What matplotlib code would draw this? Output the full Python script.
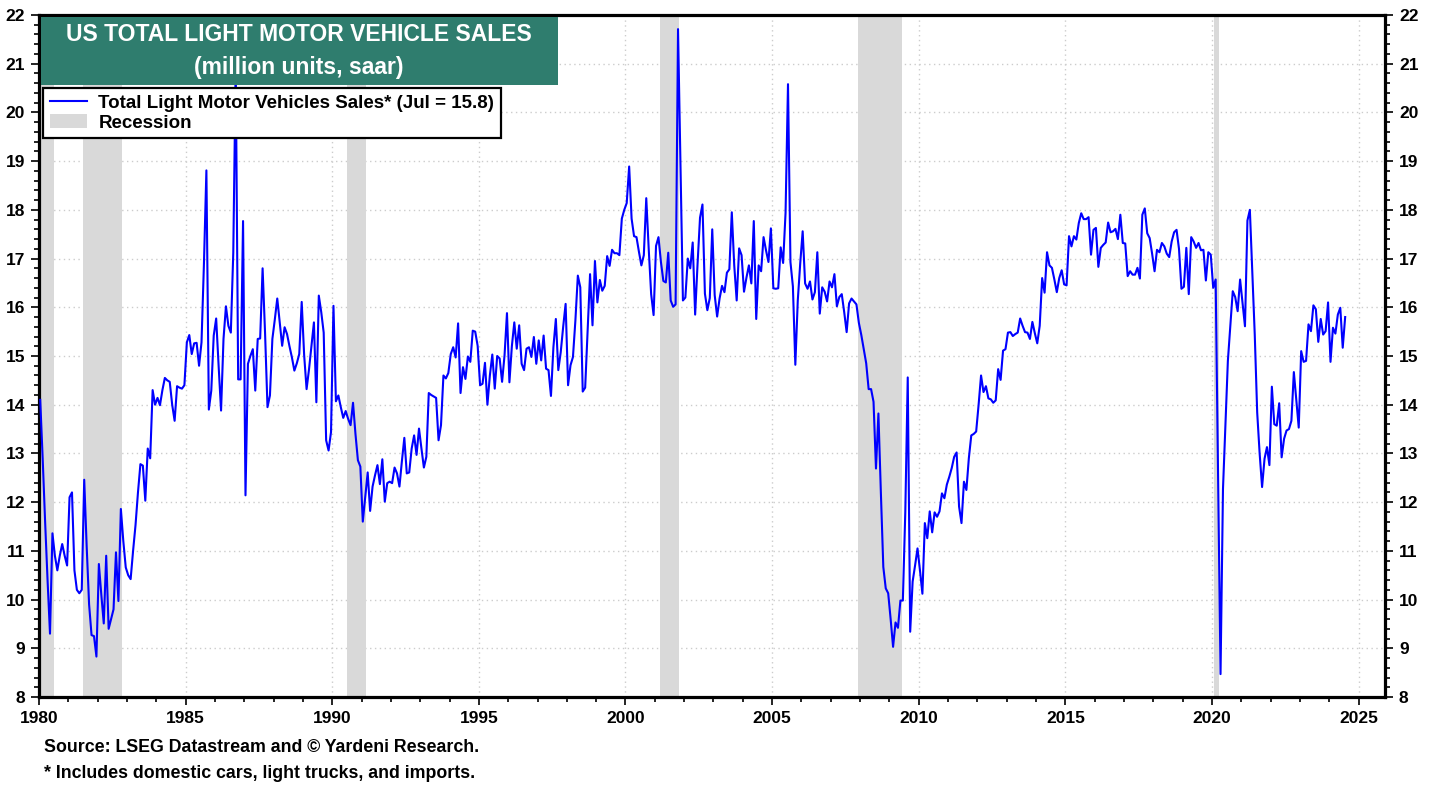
import numpy as np
import matplotlib.pyplot as plt
from matplotlib.lines import Line2D
from matplotlib.patches import Patch, Rectangle
from matplotlib.ticker import MultipleLocator

plt.rcParams['font.family'] = ['Liberation Sans', 'DejaVu Sans']
plt.rcParams['font.weight'] = 'bold'

# monthly sales, million units saar, Jan 1980 .. Jul 2024
sales_1980s = [
    14.1, 12.9, 11.6, 10.4, 9.3, 11.36, 10.9, 10.6, 10.9, 11.14, 10.9, 10.7,
    12.1, 12.2, 10.6, 10.2, 10.13, 10.2, 12.46, 11.1, 9.9, 9.27, 9.25, 8.83,
    10.73, 10.1, 9.51, 10.9, 9.4, 9.6, 9.8, 10.97, 9.97, 11.86, 11.2, 10.66,
    10.5, 10.42, 11.0, 11.53, 12.2, 12.78, 12.75, 12.03, 13.1, 12.9, 14.3, 14.0,
    14.14, 13.99, 14.3, 14.55, 14.5, 14.47, 14.0, 13.67, 14.38, 14.35, 14.33, 14.4,
    15.28, 15.43, 15.04, 15.26, 15.27, 14.8, 15.28, 16.9, 18.81, 13.9, 14.29, 15.42,
    15.77, 14.8, 13.88, 15.35, 16.02, 15.62, 15.48, 17.12, 21.0, 14.52, 14.52, 17.77,
    12.14, 14.84, 15.0, 15.14, 14.29, 15.35, 15.36, 16.8, 15.48, 13.95, 14.19, 15.35,
    15.75, 16.18, 15.69, 15.21, 15.59, 15.45, 15.2, 14.97, 14.7, 14.85, 15.04, 16.11,
    15.02, 14.32, 14.73, 15.2, 15.69, 14.05, 16.24, 15.9, 15.48, 13.27, 13.06, 13.44,
]
sales_1990s = [
    16.03, 14.07, 14.19, 13.95, 13.73, 13.87, 13.71, 13.58, 14.04, 13.4, 12.86, 12.73,
    11.6, 12.1, 12.61, 11.82, 12.32, 12.55, 12.76, 12.37, 12.88, 12.01, 12.39, 12.42,
    12.39, 12.71, 12.59, 12.32, 12.84, 13.32, 12.59, 12.61, 13.1, 13.37, 12.97, 13.51,
    13.1, 12.71, 12.93, 14.24, 14.2, 14.17, 14.14, 13.27, 13.58, 14.6, 14.54, 14.65,
    15.04, 15.18, 14.97, 15.67, 14.24, 14.77, 14.53, 14.99, 14.88, 15.52, 15.5, 15.21,
    14.4, 14.43, 14.86, 14.0, 14.6, 15.03, 14.33, 15.0, 14.95, 14.47, 15.01, 15.88,
    14.46, 15.2, 15.69, 15.15, 15.63, 14.84, 14.71, 15.15, 15.18, 14.98, 15.39, 14.84,
    15.32, 14.91, 15.42, 14.74, 14.71, 14.18, 15.18, 15.76, 14.71, 15.08, 15.6, 16.07,
    14.4, 14.81, 14.98, 15.73, 16.65, 16.41, 14.27, 14.35, 15.5, 16.68, 15.63, 16.95,
    16.1, 16.56, 16.34, 16.44, 17.05, 16.85, 17.18, 17.11, 17.11, 17.07, 17.82, 18.0,
]
sales_2000s = [
    18.14, 18.89, 17.82, 17.46, 17.44, 17.14, 16.86, 17.07, 18.24, 17.2, 16.27, 15.84,
    17.26, 17.44, 16.93, 16.54, 16.51, 17.12, 16.14, 16.01, 16.06, 21.71, 18.9, 16.14,
    16.2, 17.0, 16.8, 17.33, 15.85, 16.9, 17.84, 18.11, 16.28, 15.94, 16.19, 17.6,
    16.25, 15.81, 16.18, 16.44, 16.31, 16.71, 16.78, 17.95, 16.86, 16.14, 17.21, 17.07,
    16.32, 16.61, 16.86, 16.49, 17.77, 15.76, 16.86, 16.74, 17.44, 17.17, 16.93, 17.62,
    16.39, 16.38, 16.39, 17.23, 16.91, 17.94, 20.58, 16.93, 16.43, 14.82, 16.14, 16.9,
    17.56, 16.49, 16.38, 16.53, 16.16, 16.31, 17.13, 15.87, 16.41, 16.32, 16.12, 16.53,
    16.41, 16.68, 16.02, 16.21, 16.27, 15.9, 15.49, 16.08, 16.18, 16.12, 16.06, 15.68,
    15.43, 15.14, 14.85, 14.32, 14.32, 14.06, 12.69, 13.82, 12.2, 10.67, 10.23, 10.13,
    9.6, 9.03, 9.53, 9.42, 9.98, 9.98, 11.8, 14.56, 9.34, 10.37, 10.7, 11.05,
]
sales_2010s = [
    10.6, 10.12, 11.57, 11.26, 11.81, 11.38, 11.79, 11.7, 11.81, 12.18, 12.08, 12.36,
    12.52, 12.7, 12.93, 13.02, 11.91, 11.57, 12.42, 12.25, 12.9, 13.37, 13.4, 13.45,
    14.0, 14.6, 14.26, 14.38, 14.13, 14.11, 14.04, 14.09, 14.73, 14.51, 15.11, 15.14,
    15.48, 15.49, 15.41, 15.45, 15.48, 15.77, 15.62, 15.49, 15.48, 15.35, 15.7, 15.47,
    15.26, 15.62, 16.6, 16.3, 17.13, 16.86, 16.81, 16.57, 16.31, 16.6, 16.76, 16.47,
    16.45, 17.46, 17.25, 17.46, 17.39, 17.73, 17.93, 17.81, 17.81, 17.85, 17.08, 17.59,
    17.63, 16.83, 17.22, 17.28, 17.33, 17.74, 17.54, 17.56, 17.61, 17.4, 17.9, 17.32,
    17.31, 16.64, 16.74, 16.67, 16.67, 16.81, 16.59, 17.9, 18.03, 17.52, 17.42, 17.1,
    16.74, 17.18, 17.13, 17.32, 17.25, 17.1, 17.03, 17.35, 17.54, 17.59, 17.2, 16.38,
    16.42, 17.22, 16.27, 17.44, 17.35, 17.22, 17.32, 17.17, 17.18, 16.55, 17.13, 17.08,
]
sales_2020s = [
    16.4, 16.57, 12.5, 8.47, 12.27, 13.6, 14.9, 15.6, 16.33, 16.21, 15.92, 16.57,
    16.08, 15.61, 17.78, 18.0, 16.7, 15.44, 13.84, 13.0, 12.31, 12.89, 13.13, 12.76,
    14.37, 13.6, 13.57, 14.03, 12.92, 13.3, 13.47, 13.5, 13.67, 14.67, 14.1, 13.53,
    15.1, 14.88, 14.9, 15.65, 15.51, 16.04, 15.96, 15.29, 15.76, 15.44, 15.51, 16.1,
    14.88, 15.58, 15.46, 15.85, 15.99, 15.17, 15.8,
]

recession_starts = ["1980-01", "1981-07", "1990-07", "2001-03", "2007-12", "2020-02"]
recession_ends = ["1980-07", "1982-11", "1991-03", "2001-11", "2009-06", "2020-04"]


def to_year(ym):
    y, m = ym.split("-")
    return int(y) + (int(m) - 1) / 12


sales = np.array(sales_1980s + sales_1990s + sales_2000s + sales_2010s + sales_2020s)
x = 1980 + (np.arange(len(sales)) + 0.5) / 12

fig = plt.figure(figsize=(14.38, 7.9), dpi=100)
ax = fig.add_axes([39 / 1438, 1 - 697 / 790, 1346 / 1438, 682 / 790])

for s, e in zip(recession_starts, recession_ends):
    ax.axvspan(to_year(s), to_year(e), color='#d9d9d9', lw=0, zorder=1)

ax.plot(x, sales, color='#0000ff', lw=1.5, zorder=3)

ax.set_xlim(1980, 2025.9)
ax.set_ylim(8, 22)
ax.xaxis.set_major_locator(MultipleLocator(5))
ax.xaxis.set_minor_locator(MultipleLocator(1))
ax.yaxis.set_major_locator(MultipleLocator(1))
ax.yaxis.set_minor_locator(MultipleLocator(0.2))
ax.grid(which='major', color='#cccccc', linestyle=(0, (1, 2.5)), lw=1.0, zorder=0)
ax.set_axisbelow(True)
ax.tick_params(which='both', direction='out', width=1.2, right=True, labelright=True, colors='black')
ax.tick_params(which='major', length=6, labelsize=12.5, pad=4)
ax.tick_params(which='minor', length=3.5)
for sp in ax.spines.values():
    sp.set_linewidth(2.3)

# title box
ax.add_patch(Rectangle((0.0015, 0.897), 0.384, 0.1, transform=ax.transAxes,
                       facecolor='#2f7d6e', edgecolor='none', zorder=5))
ax.text(0.193, 0.972, "US TOTAL LIGHT MOTOR VEHICLE SALES", transform=ax.transAxes,
        ha='center', va='center', color='white', fontsize=16.5, zorder=6)
ax.text(0.193, 0.923, "(million units, saar)", transform=ax.transAxes,
        ha='center', va='center', color='white', fontsize=16.5, zorder=6)

handles = [Line2D([], [], color='#0000ff', lw=1.5), Patch(facecolor='#d9d9d9', edgecolor='none')]
labels = ["Total Light Motor Vehicles Sales* (Jul = 15.8)", "Recession"]
leg = ax.legend(handles, labels, loc='upper left', bbox_to_anchor=(0.003, 0.893),
                fancybox=False, framealpha=1, edgecolor='black', borderpad=0.35,
                handlelength=2.0, handletextpad=0.6, labelspacing=0.15,
                prop={'weight': 'bold', 'size': 13.5}, borderaxespad=0)
leg.get_frame().set_linewidth(1.6)
leg.set_zorder(7)

fig.text(44 / 1438, 1 - 748 / 790, "Source: LSEG Datastream and \u00a9 Yardeni Research.",
         fontsize=12.8, va='center', ha='left')
fig.text(44 / 1438, 1 - 773 / 790, "* Includes domestic cars, light trucks, and imports.",
         fontsize=12.8, va='center', ha='left')

fig.savefig("out.png", dpi=100)
